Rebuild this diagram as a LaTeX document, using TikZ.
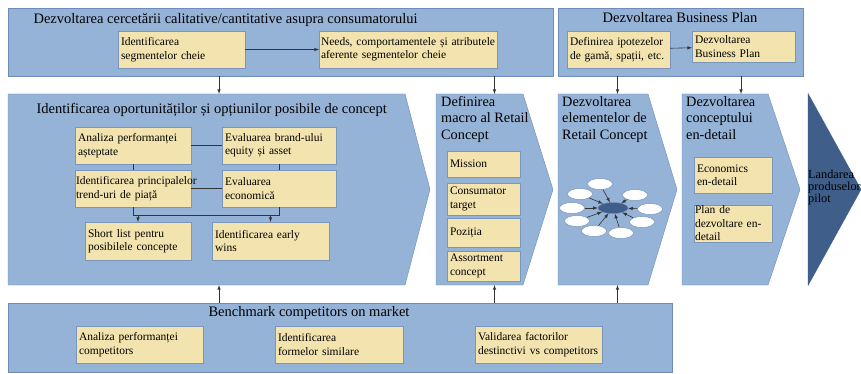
\documentclass[tikz,border=0pt]{standalone}
\usepackage{fontspec}
\setmainfont{Liberation Serif}
\usetikzlibrary{shapes.symbols,shapes.geometric}
\definecolor{bandblue}{RGB}{149,179,215}
\definecolor{bandedge}{RGB}{110,140,184}
\definecolor{itemtan}{RGB}{243,228,175}
\definecolor{itemedge}{RGB}{122,150,188}
\definecolor{launchblue}{RGB}{63,95,138}
\tikzstyle{band}=[draw=bandedge, fill=bandblue, anchor=north west, inner sep=0pt, outer sep=0pt]
\tikzstyle{chev}=[band, anchor=west, signal, signal to=east, minimum height=191pt]
\tikzstyle{item}=[draw=itemedge, fill=itemtan, anchor=north west, align=left, inner sep=3pt, outer sep=0pt, font=\fontsize{11.5}{13.5}\selectfont]
\tikzset{head/.style={font=\fontsize{14.5}{17}\selectfont}}
\tikzset{chevhead/.style={anchor=north west, align=left, inner sep=0pt, font=\fontsize{14.3}{16.5}\selectfont}}
\tikzset{petal/.style={ellipse, draw=bandedge, fill=white, minimum width=25pt, minimum height=11pt, inner sep=0pt}}
\tikzstyle{link}=[-latex, line width=.6pt, black!80]

\begin{document}
\begin{tikzpicture}[x=1pt,y=-1pt]
  \useasboundingbox (0,0) rectangle (861,374);
  \clip (0,0) rectangle (861,374);

  %% Research band
  \draw (8,8) node[band, minimum width=545pt, minimum height=68pt] (cerc) {};
  \draw (30,20) node[head, anchor=west] (cerct) {Dezvoltarea cercetării calitative/cantitative asupra consumatorului};
  \draw (118,31) node[item, text width=121pt, minimum height=37pt] (segm) {Identificarea\\segmentelor cheie};
  \draw (319,31) node[item, inner sep=2pt, text width=174pt, minimum height=37pt] (needs) {\mbox{Needs, comportamentele și atributele}\\aferente segmentelor cheie};
  \draw[link] (segm) -- (needs);

  %% Business plan band
  \draw (558,8) node[band, minimum width=245pt, minimum height=68pt] (bp) {};
  \draw (680,18) node[head] (bpt) {Dezvoltarea Business Plan};
  \draw (567,31) node[item, text width=97pt, minimum height=37pt] (ipot) {Definirea ipotezelor\\de gamă, spații, etc.};
  \draw (692,31) node[item, text width=97pt, minimum height=31pt] (bplan) {Dezvoltarea\\Business Plan};
  \draw[link] (ipot) -- (bplan);

  %% Chevrons
  \draw (8,189.5) node[chev, signal pointer angle=150.7, minimum width=422pt] (opt) {};
  \draw (436,189.5) node[chev, signal pointer angle=145.1, minimum width=117pt] (macro) {};
  \draw (558,189.5) node[chev, signal pointer angle=146.2, minimum width=119pt] (elem) {};
  \draw (682,189.5) node[chev, signal pointer angle=143, minimum width=118pt] (detail) {};
  \draw (808,189.5) node[chev, fill=launchblue, draw=launchblue, signal pointer angle=122.2, minimum width=53pt, minimum height=192pt] (land) {};

  \draw (33,110) node[head, anchor=west] (optt) {Identificarea oportunităților și opțiunilor posibile de concept};
  \draw (441,96) node[chevhead] (macrot) {Definirea\\macro al Retail\\Concept};
  \draw (562,96) node[chevhead] (elemt) {Dezvoltarea\\elementelor de\\Retail Concept};
  \draw (686,96) node[chevhead] (detailt) {Dezvoltarea\\conceptului\\en-detail};
  \draw (808,170) node[anchor=north west, align=left, inner sep=0pt, font=\fontsize{12.3}{12}\selectfont] (landt) {Landarea\\produselor\\pilot};

  %% Concept options
  \draw (75,127) node[item, text width=110pt, minimum height=37pt] (a1) {Analiza performanței\\așteptate};
  \draw (222,127) node[item, text width=108pt, minimum height=37pt] (a2) {Evaluarea brand-ului\\equity și asset};
  \draw (75,170) node[item, inner sep=1pt, text width=114pt, minimum height=37pt] (a3) {\mbox{Identificarea principalelor}\\trend-uri de piață};
  \draw (222,170) node[item, text width=108pt, minimum height=37pt] (a4) {Evaluarea\\economică};
  \draw (85,222) node[item, text width=100pt, minimum height=38pt] (a5) {Short list pentru\\posibilele concepte};
  \draw (212,222) node[item, text width=111pt, minimum height=38pt] (a6) {Identificarea early\\wins};
  \coordinate (fork) at (0,215);
  \draw[black!80] (a1) -- (a2);
  \draw[black!80] (a3) -- (a4);
  \draw[black!80] (a1) -- (a3);
  \draw[black!80] (a2) -- (a4);
  \draw[black!80] (a3.south) -- (a3.south |- fork) -- (a4.south |- fork) -- (a4.south);
  \draw[link] (a5.north |- fork) -- (a5.north);
  \draw[link] (a6.north |- fork) -- (a6.north);

  %% Macro concept
  \draw (447,151) node[item, text width=67pt, minimum height=26pt] (m1) {Mission};
  \draw (447,183) node[item, text width=67pt, minimum height=32pt] (m2) {Consumator\\target};
  \draw (447,218) node[item, text width=67pt, minimum height=29pt] (m3) {Poziția};
  \draw (447,251) node[item, text width=67pt, minimum height=30pt] (m4) {Assortment\\concept};

  %% Concept elements
  \draw (613,208) node[ellipse, draw=bandedge, fill=launchblue, minimum width=30pt, minimum height=11pt, inner sep=0pt] (hub) {};
  \foreach \x/\y [count=\i] in {600/184, 580/194, 635/195, 572/208, 650/209, 577/221, 642/222, 594/231, 621/233}{
    \draw (\x,\y) node[petal] (p\i) {};
    \draw[link] (p\i) -- (hub);
  }

  %% Detail concept
  \draw (694,157) node[item, text width=72pt, minimum height=36pt] (e1) {Economics\\en-detail};
  \draw (694,205) node[item, inner sep=1pt, text width=76pt, minimum height=35pt] (e2) {Plan de\\dezvoltare en-\\detail};

  %% Benchmark band
  \draw (8,303) node[band, minimum width=664pt, minimum height=69pt] (bench) {};
  \draw (309,313) node[head] (bencht) {Benchmark competitors on market};
  \draw (76,326) node[item, text width=121pt, minimum height=37pt] (b1) {Analiza performanței\\competitors};
  \draw (275,326) node[item, text width=122pt, minimum height=37pt] (b2) {Identificarea\\formelor similare};
  \draw (475,326) node[item, text width=121pt, minimum height=37pt] (b3) {Validarea factorilor\\\mbox{destinctivi vs competitors}};

  %% Flow between bands
  \draw[link] ([xshift=12.5pt]opt.north |- cerc.south) -- ([xshift=12.5pt]opt.north);
  \draw[link] ([xshift=15pt]macro.north |- cerc.south) -- ([xshift=15pt]macro.north);
  \draw[link] ([xshift=14.5pt]elem.north |- bp.south) -- ([xshift=14.5pt]elem.north);
  \draw[link] ([xshift=16pt]detail.north |- bp.south) -- ([xshift=16pt]detail.north);
  \draw[link] ([xshift=12.5pt]opt.south |- bench.north) -- ([xshift=12.5pt]opt.south);
  \draw[link] ([xshift=15pt]macro.south |- bench.north) -- ([xshift=15pt]macro.south);
  \draw[link] ([xshift=14.5pt]elem.south |- bench.north) -- ([xshift=14.5pt]elem.south);
\end{tikzpicture}
\end{document}
